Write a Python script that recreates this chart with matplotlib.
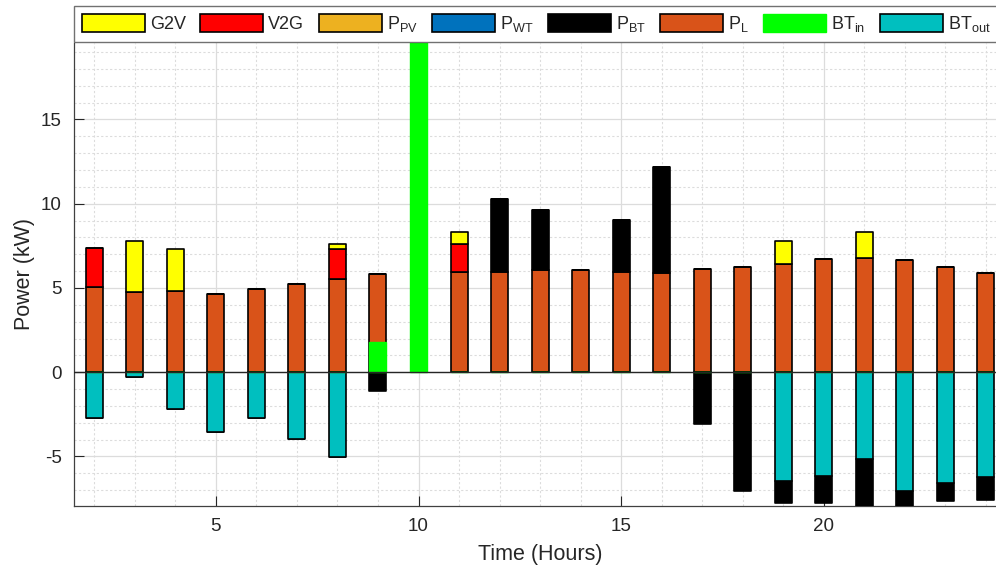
import numpy as np
import matplotlib
matplotlib.use("Agg")
import matplotlib.pyplot as plt

plt.rcParams['font.family'] = ['Liberation Sans', 'DejaVu Sans']
plt.rcParams['mathtext.fontset'] = 'custom'
plt.rcParams['mathtext.rm'] = 'Liberation Sans'
plt.rcParams['mathtext.it'] = 'Liberation Sans:italic'
plt.rcParams['axes.unicode_minus'] = False

hours = np.arange(2, 25)

# power values in kW, hours 2..24
p_load = [5.08, 4.78, 4.80, 4.62, 4.92, 5.24, 5.56, 5.81, 0.0, 5.97, 5.93, 6.07,
          6.07, 5.93, 5.87, 6.15, 6.27, 6.43, 6.71, 6.80, 6.67, 6.23, 5.91]
v2g = [2.32, 0, 0, 0, 0, 0, 1.76, 0, 0, 1.65, 0, 0,
       0, 0, 0, 0, 0, 0, 0, 0, 0, 0, 0]
g2v = [0, 2.98, 2.50, 0, 0, 0, 0.28, 0, 0, 0.71, 0, 0,
       0, 0, 0, 0, 0, 1.33, 0, 1.53, 0, 0, 0]
p_pv = [0] * 23
p_wt = [0] * 23
p_bt = [0, 0, 0, 0, 0, 0, 0, -1.13, 0, 0, 4.35, 3.53,
        0, 3.12, 6.31, -3.10, -7.02, -1.31, -1.57, -2.84, -0.96, -1.11, -1.37]
bt_in = [0, 0, 0, 0, 0, 0, 0, 1.81, 20.0, 0, 0, 0,
         0, 0, 0, 0, 0, 0, 0, 0, 0, 0, 0]
bt_out = [-2.70, -0.28, -2.16, -3.55, -2.72, -3.99, -5.04, 0, 0, 0, 0, 0,
          0, 0, 0, 0, 0, -6.43, -6.17, -5.16, -7.02, -6.55, -6.21]

c_g2v = '#FFFF00'
c_v2g = '#FF0000'
c_pv = '#EDB120'
c_wt = '#0072BD'
c_bt = '#000000'
c_pl = '#D95319'
c_in = '#00FF00'
c_out = '#00BFBF'

fig = plt.figure(figsize=(9.96, 5.73), dpi=100)
ax = fig.add_axes([74 / 996, 1 - 505.7 / 573, 23 * 40.53 / 996, (505.7 - 43) / 573])

w = 0.42
kw = dict(width=w, edgecolor='black', linewidth=1.2, joinstyle='round')

pl = np.array(p_load)
bt = np.array(p_bt)
bt_pos = np.clip(bt, 0, None)
bt_neg = np.clip(bt, None, 0)
out = np.array(bt_out)

h_pl = ax.bar(hours, pl, color=c_pl, zorder=3, **kw)
h_bt = ax.bar(hours, bt_pos, bottom=pl, color=c_bt, zorder=3, **kw)
ax.bar(hours, bt_neg, bottom=out, color=c_bt, zorder=3, **kw)
h_v2g = ax.bar(hours, v2g, bottom=pl + bt_pos, color=c_v2g, zorder=3, **kw)
h_g2v = ax.bar(hours, g2v, bottom=pl + bt_pos + np.array(v2g), color=c_g2v, zorder=3, **kw)
h_out = ax.bar(hours, out, color=c_out, zorder=3, **kw)
h_pv = ax.bar(hours, p_pv, color=c_pv, zorder=2, **kw)
h_wt = ax.bar(hours, p_wt, color=c_wt, zorder=2, **kw)
h_in = ax.bar(hours, bt_in, width=w, color=c_in, edgecolor=c_in, linewidth=1.0, zorder=4)

ax.axhline(0, color='#262626', linewidth=1.0, zorder=5)

ax.set_xlim(1.5, 24.5)
ax.set_ylim(-7.92, 19.54)
ax.set_xticks([5, 10, 15, 20])
ax.set_yticks([-5, 0, 5, 10, 15])
ax.set_xticks(np.arange(2, 25), minor=True)
ax.set_yticks(np.arange(-7, 20), minor=True)
ax.grid(True, which='major', color='#dcdcdc', linewidth=0.9, zorder=0)
ax.grid(True, which='minor', color='#dcdcdc', linestyle=(0, (2, 2)), linewidth=0.8, zorder=0)
ax.set_axisbelow(True)
ax.tick_params(which='major', direction='in', length=7, width=0.8, color='#262626',
               labelsize=13.5, labelcolor='#262626', pad=9)
ax.tick_params(which='minor', length=0)
for s in ['top', 'right']:
    ax.spines[s].set_visible(False)
for s in ['left', 'bottom']:
    ax.spines[s].set_color('#404040')
    ax.spines[s].set_linewidth(0.9)

ax.set_xlabel('Time (Hours)', fontsize=15.5, color='#262626', labelpad=6)
ax.set_ylabel('Power (kW)', fontsize=15.5, color='#262626', labelpad=4)

handles = [h_g2v, h_v2g, h_pv, h_wt, h_bt, h_pl, h_in, h_out]
labels = ['G2V', 'V2G', r'P$_{\rm PV}$', r'P$_{\rm WT}$', r'P$_{\rm BT}$',
          r'P$_{\rm L}$', r'BT$_{\rm in}$', r'BT$_{\rm out}$']
leg = fig.legend(handles, labels, loc='lower left', bbox_to_anchor=(74 / 996, 1 - 42.3 / 573),
                 ncol=8, frameon=True, fancybox=False, borderaxespad=0, fontsize=13,
                 handlelength=3.48, handleheight=1.1, handletextpad=0.28,
                 columnspacing=0.8, borderpad=0.45)
leg.get_frame().set_edgecolor('#4d4d4d')
leg.get_frame().set_linewidth(1.0)
for t in leg.get_texts():
    t.set_color('#262626')

fig.savefig('out.png', dpi=100)
